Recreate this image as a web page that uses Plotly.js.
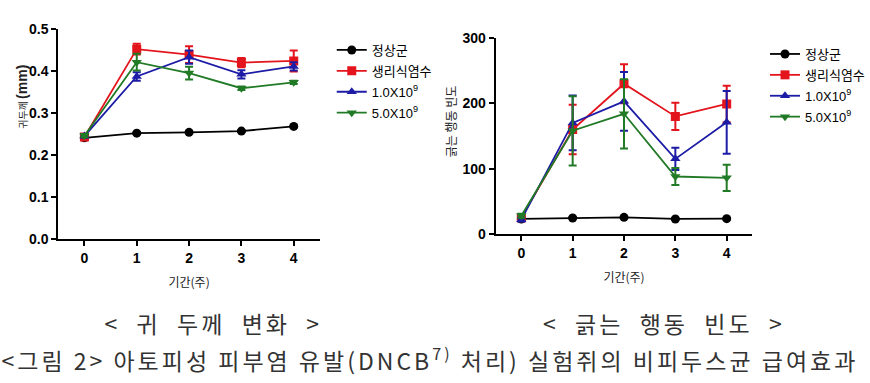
<!DOCTYPE html>
<html><head><meta charset="utf-8">
<script src="https://cdn.plot.ly/plotly-3.0.1.min.js"></script>
<style>
html,body{margin:0;padding:0;background:#fff}
#chart{width:870px;height:383px}
#chart .annotation[data-index="0"] .annotation-text,
#chart .annotation[data-index="1"] .annotation-text,
#chart .annotation[data-index="2"] .annotation-text{letter-spacing:3px}
</style>
</head><body><div id="chart"></div>
<script>
const weeks = [0, 1, 2, 3, 4];
const seriesNames = ['정상군', '생리식염수', '1.0X10<sup>9</sup>', '5.0X10<sup>9</sup>'];

// Left: ear thickness (mm)
const earNormal = [0.241, 0.252, 0.254, 0.257, 0.268];
const earNormalErr = [0.002, 0.002, 0.002, 0.002, 0.002];
const earSaline = [0.243, 0.452, 0.439, 0.420, 0.424];
const earSalineErr = [0.004, 0.013, 0.020, 0.011, 0.025];
const earLow = [0.245, 0.387, 0.433, 0.392, 0.411];
const earLowErr = [0.004, 0.010, 0.016, 0.010, 0.010];
const earHigh = [0.246, 0.421, 0.395, 0.359, 0.373];
const earHighErr = [0.004, 0.020, 0.015, 0.004, 0.004];

// Right: scratching frequency
const scrNormal = [23, 24.5, 25.5, 23, 23.5];
const scrNormalErr = [1, 1, 1, 1, 1];
const scrSaline = [25, 160, 230, 180, 199];
const scrSalineErr = [3, 38, 30, 21, 28];
const scrLow = [22, 170, 203, 115, 171];
const scrLowErr = [3, 42, 45, 17, 48];
const scrHigh = [28, 158, 184, 88, 86];
const scrHighErr = [3, 53, 53, 13, 20];

const colors = ['#000000', '#e4141c', '#1c1ca6', '#217a25'];
const symbols = ['circle', 'square', 'triangle-up', 'triangle-down'];

function mk(x, y, err, i, xa, ya, leg) {
  return {
    x: x, y: y, type: 'scatter', mode: 'lines+markers', name: seriesNames[i],
    xaxis: xa, yaxis: ya, legend: leg, legendgroup: leg + i,
    line: {color: colors[i], width: 1.8},
    marker: {color: colors[i], symbol: symbols[i], size: 9},
    error_y: {type: 'data', array: err, visible: true, color: colors[i], thickness: 2, width: 4}
  };
}

const data = [
  mk(weeks, earNormal, earNormalErr, 0, 'x', 'y', 'legend'),
  mk(weeks, earSaline, earSalineErr, 1, 'x', 'y', 'legend'),
  mk(weeks, earLow, earLowErr, 2, 'x', 'y', 'legend'),
  mk(weeks, earHigh, earHighErr, 3, 'x', 'y', 'legend'),
  mk(weeks, scrNormal, scrNormalErr, 0, 'x2', 'y2', 'legend2'),
  mk(weeks, scrSaline, scrSalineErr, 1, 'x2', 'y2', 'legend2'),
  mk(weeks, scrLow, scrLowErr, 2, 'x2', 'y2', 'legend2'),
  mk(weeks, scrHigh, scrHighErr, 3, 'x2', 'y2', 'legend2')
];

const tickFont = {family: 'Liberation Sans, Arial', size: 14, color: '#000', weight: 'bold'};
const titleFont = {family: 'Noto Sans CJK KR', size: 12, color: '#222'};
const axBase = {
  showgrid: false, zeroline: false, showline: true, linecolor: '#000', linewidth: 2,
  ticks: 'outside', ticklen: 5, tickwidth: 2, tickcolor: '#000', tickfont: tickFont
};
const NB = '\u00A0';

const layout = {
  width: 870, height: 383,
  margin: {l: 0, r: 0, t: 0, b: 0},
  paper_bgcolor: '#fff', plot_bgcolor: '#fff',
  font: {family: 'Liberation Sans, Noto Sans CJK KR', color: '#000'},
  xaxis: Object.assign({}, axBase, {domain: [59/870, 324/870], range: [-0.5, 4.5], tickvals: weeks, anchor: 'y',
    title: {text: '기간(주)', font: titleFont, standoff: 14}}),
  yaxis: Object.assign({}, axBase, {domain: [1 - 239/383, 1 - 29/383], range: [0, 0.5], tickvals: [0, 0.1, 0.2, 0.3, 0.4, 0.5],
    ticktext: ['0.0', '0.1', '0.2', '0.3', '0.4', '0.5'], anchor: 'x'}),
  xaxis2: Object.assign({}, axBase, {domain: [502/870, 762/870], range: [-0.5, 4.5], tickvals: weeks, anchor: 'y2',
    title: {text: '기간(주)', font: titleFont, standoff: 14}}),
  yaxis2: Object.assign({}, axBase, {domain: [1 - 234/383, 1 - 38/383], range: [0, 300], tickvals: [0, 100, 200, 300], anchor: 'x2'}),
  legend: {x: 336/870, y: 1 - 35/383, xanchor: 'left', yanchor: 'top', bgcolor: 'rgba(0,0,0,0)',
    font: {family: 'Liberation Sans, Noto Sans CJK KR', size: 13, color: '#000'}, tracegroupgap: 1, traceorder: 'grouped'},
  legend2: {x: 775/870, y: 1 - 39/383, xanchor: 'left', yanchor: 'top', bgcolor: 'rgba(0,0,0,0)',
    font: {family: 'Liberation Sans, Noto Sans CJK KR', size: 13, color: '#000'}, tracegroupgap: 1, traceorder: 'grouped'},
  annotations: [
    {text: '<' + NB + NB + '귀' + NB + NB + '두께' + NB + NB + '변화' + NB + NB + '>', x: 216/870, y: 1 - 323/383, xref: 'paper', yref: 'paper', showarrow: false,
      xanchor: 'center', yanchor: 'middle', font: {family: 'Noto Sans CJK KR', size: 23, color: '#333'}},
    {text: '<' + NB + NB + '긁는' + NB + NB + '행동' + NB + NB + '빈도' + NB + NB + '>', x: 672/870, y: 1 - 323/383, xref: 'paper', yref: 'paper', showarrow: false,
      xanchor: 'center', yanchor: 'middle', font: {family: 'Noto Sans CJK KR', size: 23, color: '#333'}},
    {text: '<그림 2> 아토피성 피부염 유발(DNCB<sup>7)</sup> 처리) 실험쥐의 비피두스균 급여효과', x: 435/870, y: 1 - 359/383,
      xref: 'paper', yref: 'paper', showarrow: false, xanchor: 'center', yanchor: 'middle',
      font: {family: 'Noto Sans CJK KR', size: 23, color: '#333'}},
    {text: '귀두께 <span style="font-size:14px;font-family:Liberation Sans"><b>(mm)</b></span>', x: 22/870, y: 1 - 97/383,
      xref: 'paper', yref: 'paper', showarrow: false, xanchor: 'center', yanchor: 'middle', textangle: -90,
      font: {family: 'Noto Sans CJK KR', size: 10, color: '#222'}},
    {text: '긁는 행동 빈도', x: 456/870, y: 1 - 121/383,
      xref: 'paper', yref: 'paper', showarrow: false, xanchor: 'center', yanchor: 'middle', textangle: -90,
      font: {family: 'Noto Sans CJK KR', size: 12, color: '#222'}}
  ]
};

Plotly.newPlot('chart', data, layout, {staticPlot: true, displayModeBar: false});
</script></body></html>
